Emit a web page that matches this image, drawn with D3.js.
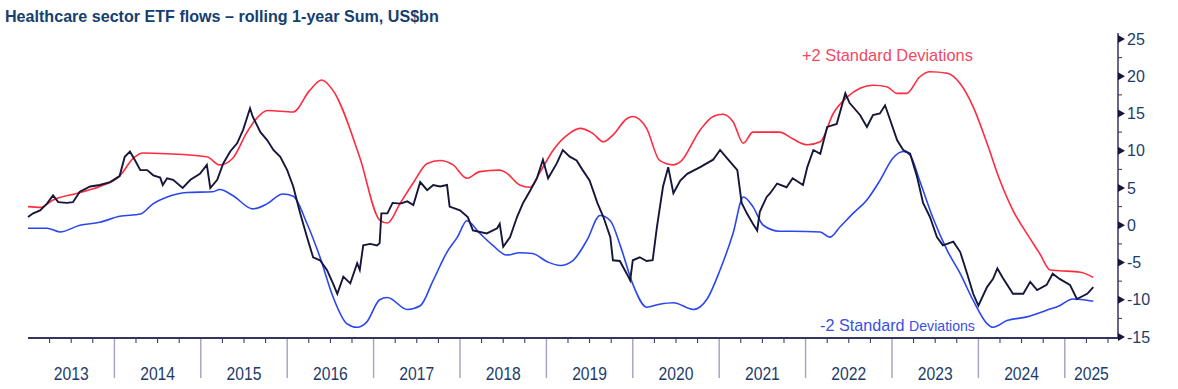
<!DOCTYPE html>
<html>
<head>
<meta charset="utf-8">
<script src="https://cdn.jsdelivr.net/npm/d3@7/dist/d3.min.js"></script>
<style>
  body { margin: 0; background: #fff; }
  svg { display: block; font-family: Arial, "Liberation Sans", sans-serif; }
</style>
</head>
<body>
<svg id="chart" width="1178" height="389"></svg>
<script>
// rolling 1-year sum of flows (decimal year, US$bn)
const flowT = [2013.00, 2013.06, 2013.14, 2013.22, 2013.29, 2013.35, 2013.45, 2013.52, 2013.60, 2013.72, 2013.83, 2013.95,
  2014.06, 2014.12, 2014.18, 2014.24, 2014.30, 2014.38, 2014.45, 2014.53, 2014.56, 2014.61, 2014.68, 2014.79, 2014.88, 2014.99,
  2015.07, 2015.11, 2015.19, 2015.26, 2015.34, 2015.42, 2015.49, 2015.57, 2015.60, 2015.69, 2015.77, 2015.84, 2015.92,
  2016.00, 2016.07, 2016.15, 2016.23, 2016.30, 2016.38, 2016.46, 2016.53, 2016.58, 2016.65, 2016.73, 2016.81, 2016.84,
  2016.88, 2016.96, 2017.04, 2017.07, 2017.09, 2017.16, 2017.22, 2017.31, 2017.39, 2017.46, 2017.54, 2017.62, 2017.69,
  2017.77, 2017.85, 2017.88, 2018.00, 2018.09, 2018.15, 2018.31, 2018.43, 2018.46, 2018.50, 2018.58, 2018.66, 2018.73,
  2018.81, 2018.89, 2018.96, 2019.02, 2019.12, 2019.19, 2019.27, 2019.35, 2019.42, 2019.50, 2019.59, 2019.66, 2019.74,
  2019.77, 2019.85, 2019.93, 2019.97, 2020.00, 2020.08, 2020.16, 2020.23, 2020.28, 2020.35, 2020.41, 2020.47, 2020.55,
  2020.63, 2020.78, 2020.93, 2021.01, 2021.09, 2021.21, 2021.26, 2021.32, 2021.39, 2021.44, 2021.47, 2021.55, 2021.59,
  2021.67, 2021.78, 2021.85, 2021.97, 2022.02, 2022.09, 2022.17, 2022.25, 2022.36, 2022.46, 2022.51, 2022.63, 2022.71,
  2022.78, 2022.86, 2022.92, 2022.98, 2023.06, 2023.13, 2023.21, 2023.29, 2023.36, 2023.44, 2023.52, 2023.59, 2023.71,
  2023.79, 2023.87, 2023.94, 2024.00, 2024.10, 2024.17, 2024.22, 2024.28, 2024.40, 2024.52, 2024.60, 2024.68, 2024.79,
  2024.86, 2024.94, 2025.06, 2025.14, 2025.26, 2025.33];
const flowV = [1.1, 1.6, 2.0, 2.9, 4.0, 3.1, 3.0, 3.1, 4.5, 5.2, 5.4, 5.8,
  6.6, 9.2, 9.9, 8.7, 7.4, 7.4, 6.7, 6.4, 5.4, 6.3, 6.1, 5.0, 6.1, 6.9,
  8.1, 5.0, 6.1, 8.3, 9.9, 11.0, 12.8, 15.7, 14.6, 12.5, 11.4, 10.1, 9.2,
  7.4, 5.2, 1.6, -1.6, -4.3, -4.7, -6.0, -7.8, -9.2, -6.9, -7.8, -5.1, -6.0,
  -2.7, -2.5, -2.7, -2.4, 1.6, 1.6, 3.0, 2.9, 3.2, 2.7, 5.8, 4.7, 5.4,
  5.2, 5.4, 2.5, 2.0, 1.1, -0.7, -1.1, -0.4, 0.2, -2.9, -1.6, 1.1, 3.0,
  4.6, 6.3, 8.8, 6.3, 8.3, 10.1, 9.2, 8.7, 7.4, 6.0, 3.0, 1.1, -1.6,
  -4.7, -4.8, -6.5, -7.4, -4.7, -4.3, -4.8, -4.7, -0.2, 5.2, 7.8, 4.3, 6.0,
  6.9, 7.8, 8.8, 10.1, 9.0, 7.4, 3.0, 1.6, 0.2, -0.7, 1.8, 3.8, 4.3,
  5.6, 5.1, 6.3, 5.4, 7.8, 10.1, 9.6, 13.2, 13.6, 17.7, 16.4, 14.8, 13.2,
  14.8, 15.0, 16.1, 14.1, 11.4, 10.1, 9.6, 6.5, 3.0, 1.1, -1.6, -2.7, -2.2,
  -3.6, -6.5, -9.2, -10.8, -8.3, -7.2, -5.8, -7.0, -9.2, -9.2, -7.6, -8.7, -8.0,
  -6.5, -7.2, -8.0, -9.9, -9.2, -8.3];

// +2 standard deviations band
const upperT = [2013.00, 2013.14, 2013.29, 2013.57, 2013.83, 2014.06, 2014.22, 2014.33, 2014.61, 2015.07, 2015.22, 2015.37,
  2015.53, 2015.65, 2015.77, 2016.07, 2016.26, 2016.40, 2016.53, 2016.84, 2017.07, 2017.16, 2017.31, 2017.46, 2017.62,
  2017.77, 2017.92, 2018.08, 2018.23, 2018.46, 2018.54, 2018.69, 2018.81, 2018.93, 2019.08, 2019.24, 2019.39, 2019.54,
  2019.66, 2019.77, 2019.93, 2020.00, 2020.16, 2020.31, 2020.47, 2020.55, 2020.78, 2020.93, 2021.04, 2021.16, 2021.28,
  2021.39, 2021.70, 2021.85, 2022.02, 2022.17, 2022.32, 2022.48, 2022.63, 2022.78, 2022.94, 2023.06, 2023.17, 2023.32,
  2023.44, 2023.64, 2023.79, 2023.94, 2024.10, 2024.25, 2024.40, 2024.56, 2024.71, 2024.83, 2024.94, 2025.18, 2025.33];
const upperV = [2.5, 2.4, 3.4, 4.3, 5.2, 6.6, 9.0, 9.7, 9.6, 9.2, 8.1, 9.0,
  12.4, 14.4, 15.4, 15.2, 18.1, 19.5, 18.1, 9.1, 0.7, 0.3, 3.0, 5.7, 8.3,
  8.7, 8.1, 6.3, 7.2, 7.4, 7.0, 5.4, 5.1, 7.2, 10.1, 12.1, 13.0, 12.3,
  11.2, 12.1, 14.3, 14.6, 13.0, 8.7, 8.1, 8.5, 12.8, 14.6, 14.9, 13.9, 11.0,
  12.5, 12.5, 11.6, 10.8, 11.2, 15.0, 17.2, 18.4, 18.8, 18.6, 17.7, 17.7, 19.9,
  20.6, 20.4, 19.0, 15.9, 11.0, 6.0, 2.0, -1.1, -3.8, -6.0, -6.1, -6.3, -7.0];

// -2 standard deviations band
const lowerT = [2013.00, 2013.22, 2013.37, 2013.60, 2013.83, 2014.06, 2014.30, 2014.45, 2014.61, 2014.84, 2015.14, 2015.22,
  2015.37, 2015.60, 2015.77, 2015.95, 2016.07, 2016.23, 2016.38, 2016.53, 2016.69, 2016.81, 2016.92, 2017.07, 2017.16,
  2017.39, 2017.54, 2017.69, 2017.85, 2017.97, 2018.08, 2018.23, 2018.38, 2018.54, 2018.69, 2018.84, 2019.01, 2019.16,
  2019.31, 2019.47, 2019.62, 2019.74, 2019.86, 2020.00, 2020.16, 2020.31, 2020.47, 2020.70, 2020.86, 2021.01, 2021.16,
  2021.28, 2021.39, 2021.51, 2021.70, 2021.85, 2022.17, 2022.28, 2022.40, 2022.55, 2022.71, 2022.86, 2023.01, 2023.13,
  2023.21, 2023.32, 2023.47, 2023.64, 2023.79, 2023.94, 2024.10, 2024.17, 2024.33, 2024.56, 2024.79, 2024.94, 2025.09, 2025.33];
const lowerV = [-0.4, -0.4, -0.9, 0.0, 0.4, 1.2, 1.5, 2.9, 3.8, 4.4, 4.5, 4.8,
  4.0, 2.2, 2.9, 4.2, 3.9, 0.2, -4.3, -9.6, -13.2, -13.7, -13.0, -10.0, -9.7,
  -11.3, -10.8, -7.4, -3.6, -1.6, 0.6, -1.1, -2.7, -4.0, -3.7, -3.8, -4.9, -5.4,
  -4.7, -2.0, 1.3, 0.6, -2.9, -7.9, -11.0, -10.6, -10.4, -11.3, -9.9, -6.0, -1.1,
  3.8, 2.5, 0.0, -0.8, -0.8, -0.9, -1.6, -0.2, 1.6, 3.4, 6.0, 9.0, 9.9,
  9.4, 6.0, 1.1, -3.4, -6.5, -10.1, -13.2, -13.7, -12.8, -12.3, -11.4, -10.8, -9.9, -10.2];

const years = [2013, 2014, 2015, 2016, 2017, 2018, 2019, 2020, 2021, 2022, 2023, 2024, 2025];
const yTicks = [25, 20, 15, 10, 5, 0, -5, -10, -15];

const svg = d3.select('#chart');
const plotLeft = 28, plotRight = 1118, plotTop = 39, plotBottom = 337;
const axisY = 338;
const xEnd = 2025.616;

const x = d3.scaleLinear().domain([2013, xEnd]).range([plotLeft, plotRight]);
const y = d3.scaleLinear().domain([-15, 25]).range([plotBottom, plotTop]);

// title
svg.append('text')
  .attr('x', 5).attr('y', 22)
  .attr('font-size', 16.1).attr('font-weight', 'bold')
  .attr('fill', '#15406e')
  .text('Healthcare sector ETF flows \u2013 rolling 1-year Sum, US$bn');

// series
const zip = (ts, vs) => ts.map((t, i) => ({ t: t, v: vs[i] }));
const smooth = d3.line().x(d => x(d.t)).y(d => y(d.v)).curve(d3.curveMonotoneX);
const jagged = d3.line().x(d => x(d.t)).y(d => y(d.v));

svg.append('path').datum(zip(lowerT, lowerV))
  .attr('fill', 'none').attr('stroke', '#2a46f0').attr('stroke-width', 1.6).attr('d', smooth);
svg.append('path').datum(zip(upperT, upperV))
  .attr('fill', 'none').attr('stroke', '#ff2b3e').attr('stroke-width', 1.6).attr('d', smooth);
svg.append('path').datum(zip(flowT, flowV))
  .attr('fill', 'none').attr('stroke', '#16163a').attr('stroke-width', 1.9)
  .attr('stroke-linejoin', 'miter').attr('d', jagged);

// series labels
svg.append('text')
  .attr('x', 802).attr('y', 61)
  .attr('font-size', 16.4).attr('fill', '#f5485f')
  .text('+2 Standard Deviations');
const low = svg.append('text')
  .attr('x', 820).attr('y', 331)
  .attr('fill', '#3a4ee6');
low.append('tspan').attr('font-size', 16.2).text('-2 Standard ');
low.append('tspan').attr('font-size', 14.1).text('Deviations');

// x axis: quarterly minor ticks, year separators, centred year labels
const quarters = d3.range(2013, xEnd, 0.25).filter(q => q % 1 !== 0);
svg.append('g').selectAll('line').data(quarters).join('line')
  .attr('x1', d => x(d)).attr('x2', d => x(d))
  .attr('y1', axisY).attr('y2', axisY + 5)
  .attr('stroke', '#2c2c5c').attr('stroke-width', 1);
svg.append('g').selectAll('line').data(years.slice(1)).join('line')
  .attr('x1', d => x(d)).attr('x2', d => x(d))
  .attr('y1', axisY).attr('y2', axisY + 40)
  .attr('stroke', '#a9a6c4').attr('stroke-width', 1.5);
svg.append('line')
  .attr('x1', plotLeft).attr('x2', plotRight)
  .attr('y1', axisY).attr('y2', axisY)
  .attr('stroke', '#34345f').attr('stroke-width', 2);
svg.append('g').selectAll('text').data(years).join('text')
  .attr('transform', d => `translate(${(x(d) + x(Math.min(d + 1, xEnd))) / 2},380) scale(1,1.18)`)
  .attr('text-anchor', 'middle')
  .attr('font-size', 15.7).attr('fill', '#1d3c6c')
  .text(d => d);

// right y axis with arrow-head ticks
svg.append('line')
  .attr('x1', plotRight).attr('x2', plotRight)
  .attr('y1', 33).attr('y2', axisY)
  .attr('stroke', '#34345f').attr('stroke-width', 1.5);
const halfSteps = d3.range(-12.5, 25, 5);
svg.append('g').selectAll('line').data(halfSteps).join('line')
  .attr('x1', plotRight).attr('x2', plotRight + 4)
  .attr('y1', d => y(d)).attr('y2', d => y(d))
  .attr('stroke', '#34345f').attr('stroke-width', 1);
svg.append('g').selectAll('path').data(yTicks).join('path')
  .attr('d', d => `M${plotRight},${y(d) - 4}L${plotRight + 7},${y(d)}L${plotRight},${y(d) + 4}Z`)
  .attr('fill', '#16163a');
svg.append('g').selectAll('text').data(yTicks).join('text')
  .attr('x', plotRight + 9).attr('y', d => y(d) + 5.5)
  .attr('font-size', 16).attr('fill', '#1d3c6c')
  .text(d => d);
</script>
</body>
</html>
